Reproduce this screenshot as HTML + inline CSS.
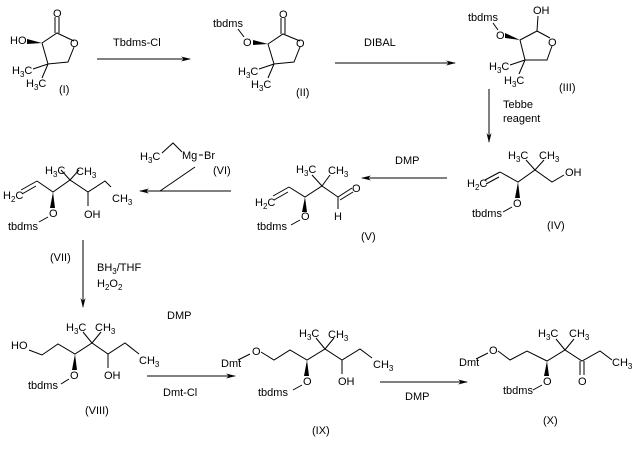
<!DOCTYPE html>
<html><head><meta charset="utf-8"><style>
html,body{margin:0;padding:0;background:#fff;}
svg{display:block;}
text{font-family:"Liberation Sans",Arial,sans-serif;font-size:11px;fill:#000;}
.s{font-size:8px;}
line,polyline{stroke:#000;stroke-width:1;fill:none;}
</style></head><body>
<svg width="635" height="450" viewBox="0 0 635 450" xmlns="http://www.w3.org/2000/svg">
<defs><marker id="a" markerWidth="10" markerHeight="6" refX="9" refY="3" orient="auto" markerUnits="userSpaceOnUse"><path d="M0,0.5 L10,3 L0,5.5 L3,3 Z" fill="#000"/></marker></defs>

<!-- I -->
<text x="10" y="44">HO</text>
<polygon points="27,39 42,43 27,44" fill="#000"/>
<polyline points="42,43 57,33 74,41"/>
<line x1="55" y1="33" x2="55" y2="17"/><line x1="59" y1="33" x2="59" y2="17"/>
<text x="53" y="17">O</text>
<text x="70" y="47">O</text>
<polyline points="74,47 68,62 48,64 42,43"/>
<line x1="48" y1="64" x2="33" y2="69"/><line x1="48" y1="64" x2="42" y2="78"/>
<text x="12" y="74">H<tspan class="s" dy="3">3</tspan><tspan dy="-3">C</tspan></text>
<text x="26" y="87">H<tspan class="s" dy="3">3</tspan><tspan dy="-3">C</tspan></text>
<text x="59" y="93">(I)</text>

<line x1="97" y1="59" x2="190" y2="59" marker-end="url(#a)"/>
<text x="113" y="46">Tbdms-Cl</text>

<!-- II -->
<text x="213" y="27">tbdms</text>
<line x1="238" y1="29" x2="244" y2="37"/>
<text x="243" y="46">O</text>
<polygon points="253,40 268,44 253,45" fill="#000"/>
<polyline points="268,44 283,34 300,41"/>
<line x1="281" y1="34" x2="281" y2="18"/><line x1="285" y1="34" x2="285" y2="18"/>
<text x="279" y="18">O</text>
<text x="296" y="47">O</text>
<polyline points="300,47 294,62 274,64 268,44"/>
<line x1="274" y1="64" x2="259" y2="69"/><line x1="274" y1="64" x2="268" y2="78"/>
<text x="238" y="75">H<tspan class="s" dy="3">3</tspan><tspan dy="-3">C</tspan></text>
<text x="251" y="88">H<tspan class="s" dy="3">3</tspan><tspan dy="-3">C</tspan></text>
<text x="296" y="96">(II)</text>

<line x1="335" y1="63" x2="455" y2="63" marker-end="url(#a)"/>
<text x="364" y="46">DIBAL</text>

<!-- III -->
<text x="468" y="21">tbdms</text>
<line x1="493" y1="23" x2="498" y2="30"/>
<text x="496" y="39">O</text>
<polygon points="505,33 520,40 505,38" fill="#000"/>
<polyline points="520,40 537,31 550,38"/>
<line x1="537" y1="31" x2="538" y2="16"/>
<text x="533" y="14">OH</text>
<text x="548" y="46">O</text>
<polyline points="552,46 547,60 525,60 520,40"/>
<line x1="525" y1="60" x2="510" y2="65"/><line x1="525" y1="60" x2="519" y2="74"/>
<text x="489" y="70">H<tspan class="s" dy="3">3</tspan><tspan dy="-3">C</tspan></text>
<text x="504" y="84">H<tspan class="s" dy="3">3</tspan><tspan dy="-3">C</tspan></text>
<text x="559" y="91">(III)</text>

<line x1="489" y1="89" x2="489" y2="142" marker-end="url(#a)"/>
<text x="503" y="108">Tebbe</text>
<text x="503" y="122">reagent</text>

<!-- IV -->
<text x="467" y="187">H<tspan class="s" dy="3">2</tspan><tspan dy="-3">C</tspan></text>
<line x1="485" y1="180" x2="500" y2="172"/><line x1="486" y1="184" x2="499" y2="177"/>
<polyline points="500,172 518,182 535,170 552,182 564,175"/>
<text x="565" y="176">OH</text>
<line x1="535" y1="170" x2="526" y2="160"/><line x1="535" y1="170" x2="544" y2="160"/>
<text x="508" y="159">H<tspan class="s" dy="3">3</tspan><tspan dy="-3">C</tspan></text>
<text x="539" y="159">CH<tspan class="s" dy="3">3</tspan></text>
<polygon points="518,182 515,198 520,198" fill="#000"/>
<text x="513" y="207">O</text>
<line x1="512" y1="207" x2="503" y2="212"/>
<text x="472" y="217">tbdms</text>
<text x="547" y="229">(IV)</text>

<line x1="447" y1="178" x2="362" y2="178" marker-end="url(#a)"/>
<text x="395" y="164">DMP</text>

<!-- V -->
<text x="255" y="206">H<tspan class="s" dy="3">2</tspan><tspan dy="-3">C</tspan></text>
<line x1="273" y1="196" x2="289" y2="187"/><line x1="274" y1="200" x2="288" y2="192"/>
<polyline points="289,187 305,197 322,186 338,197"/>
<line x1="338" y1="197" x2="352" y2="188"/><line x1="340" y1="200" x2="353" y2="192"/>
<text x="352" y="192">O</text>
<line x1="338" y1="197" x2="338" y2="209"/>
<text x="334" y="220">H</text>
<line x1="322" y1="186" x2="312" y2="175"/><line x1="322" y1="186" x2="330" y2="175"/>
<text x="296" y="173">H<tspan class="s" dy="3">3</tspan><tspan dy="-3">C</tspan></text>
<text x="328" y="174">CH<tspan class="s" dy="3">3</tspan></text>
<polygon points="305,197 302,212 307,212" fill="#000"/>
<text x="301" y="220">O</text>
<line x1="300" y1="220" x2="291" y2="225"/>
<text x="257" y="230">tbdms</text>
<text x="361" y="240">(V)</text>

<!-- Grignard -->
<text x="140" y="160">H<tspan class="s" dy="3">3</tspan><tspan dy="-3">C</tspan></text>
<polyline points="162,153 173,143 182,152"/>
<text x="182" y="159">Mg</text>
<line x1="199" y1="155" x2="203" y2="155"/>
<text x="204" y="159">Br</text>
<text x="213" y="174">(VI)</text>
<line x1="231" y1="191" x2="140" y2="191" marker-end="url(#a)"/>
<line x1="160" y1="191" x2="195" y2="167"/>

<!-- VII -->
<text x="3" y="199">H<tspan class="s" dy="3">2</tspan><tspan dy="-3">C</tspan></text>
<line x1="21" y1="190" x2="37" y2="181"/><line x1="22" y1="194" x2="36" y2="186"/>
<polyline points="37,181 53,192 70,180 88,192 105,181 111,187"/>
<line x1="70" y1="180" x2="61" y2="170"/><line x1="70" y1="180" x2="79" y2="170"/>
<text x="45" y="174">H<tspan class="s" dy="3">3</tspan><tspan dy="-3">C</tspan></text>
<text x="76" y="175">CH<tspan class="s" dy="3">3</tspan></text>
<text x="112" y="202">CH<tspan class="s" dy="3">3</tspan></text>
<line x1="88" y1="192" x2="88" y2="206"/>
<text x="84" y="218">OH</text>
<polygon points="53,192 50,208 55,208" fill="#000"/>
<text x="49" y="217">O</text>
<line x1="48" y1="217" x2="39" y2="222"/>
<text x="8" y="230">tbdms</text>
<text x="50" y="261">(VII)</text>

<line x1="83" y1="240" x2="83" y2="307" marker-end="url(#a)"/>
<text x="97" y="271">BH<tspan class="s" dy="3">3</tspan><tspan dy="-3">/THF</tspan></text>
<text x="97" y="287">H<tspan class="s" dy="3">2</tspan><tspan dy="-3">O</tspan><tspan class="s" dy="3">2</tspan></text>

<!-- VIII -->
<text x="11" y="349">HO</text>
<polyline points="29,350 42,355 58,344 75,354 92,343 108,354 125,343 139,354"/>
<line x1="92" y1="343" x2="83" y2="332"/><line x1="92" y1="343" x2="101" y2="332"/>
<text x="66" y="331">H<tspan class="s" dy="3">3</tspan><tspan dy="-3">C</tspan></text>
<text x="95" y="331">CH<tspan class="s" dy="3">3</tspan></text>
<text x="139" y="364">CH<tspan class="s" dy="3">3</tspan></text>
<line x1="108" y1="354" x2="108" y2="368"/>
<text x="104" y="379">OH</text>
<polygon points="75,354 72,370 77,370" fill="#000"/>
<text x="70" y="379">O</text>
<line x1="69" y1="379" x2="61" y2="384"/>
<text x="28" y="389">tbdms</text>
<text x="85" y="414">(VIII)</text>
<text x="167" y="319">DMP</text>

<line x1="147" y1="376" x2="235" y2="376" marker-end="url(#a)"/>
<text x="163" y="396">Dmt-Cl</text>

<!-- IX -->
<text x="221" y="367">Dmt</text>
<line x1="238" y1="360" x2="250" y2="354"/>
<text x="252" y="355">O</text>
<polyline points="261,352 274,360 290,350 307,360 325,349 342,360 360,349 372,358"/>
<line x1="325" y1="349" x2="316" y2="338"/><line x1="325" y1="349" x2="334" y2="338"/>
<text x="299" y="337">H<tspan class="s" dy="3">3</tspan><tspan dy="-3">C</tspan></text>
<text x="328" y="338">CH<tspan class="s" dy="3">3</tspan></text>
<text x="373" y="368">CH<tspan class="s" dy="3">3</tspan></text>
<line x1="342" y1="360" x2="342" y2="374"/>
<text x="338" y="385">OH</text>
<polygon points="307,360 304,376 309,376" fill="#000"/>
<text x="303" y="385">O</text>
<line x1="302" y1="385" x2="293" y2="390"/>
<text x="258" y="396">tbdms</text>
<text x="312" y="434">(IX)</text>

<line x1="380" y1="382" x2="467" y2="382" marker-end="url(#a)"/>
<text x="405" y="400">DMP</text>

<!-- X -->
<text x="459" y="366">Dmt</text>
<line x1="476" y1="359" x2="488" y2="353"/>
<text x="489" y="354">O</text>
<polyline points="498,351 510,360 527,351 547,361 565,350 582,361 600,351 612,360"/>
<line x1="565" y1="350" x2="556" y2="339"/><line x1="565" y1="350" x2="574" y2="339"/>
<text x="538" y="337">H<tspan class="s" dy="3">3</tspan><tspan dy="-3">C</tspan></text>
<text x="569" y="337">CH<tspan class="s" dy="3">3</tspan></text>
<text x="612" y="366">CH<tspan class="s" dy="3">3</tspan></text>
<line x1="580" y1="361" x2="580" y2="375"/><line x1="584" y1="361" x2="584" y2="375"/>
<text x="578" y="385">O</text>
<polygon points="547,361 544,376 549,376" fill="#000"/>
<text x="543" y="385">O</text>
<line x1="542" y1="385" x2="533" y2="390"/>
<text x="503" y="394">tbdms</text>
<text x="543" y="424">(X)</text>
</svg>
</body></html>
